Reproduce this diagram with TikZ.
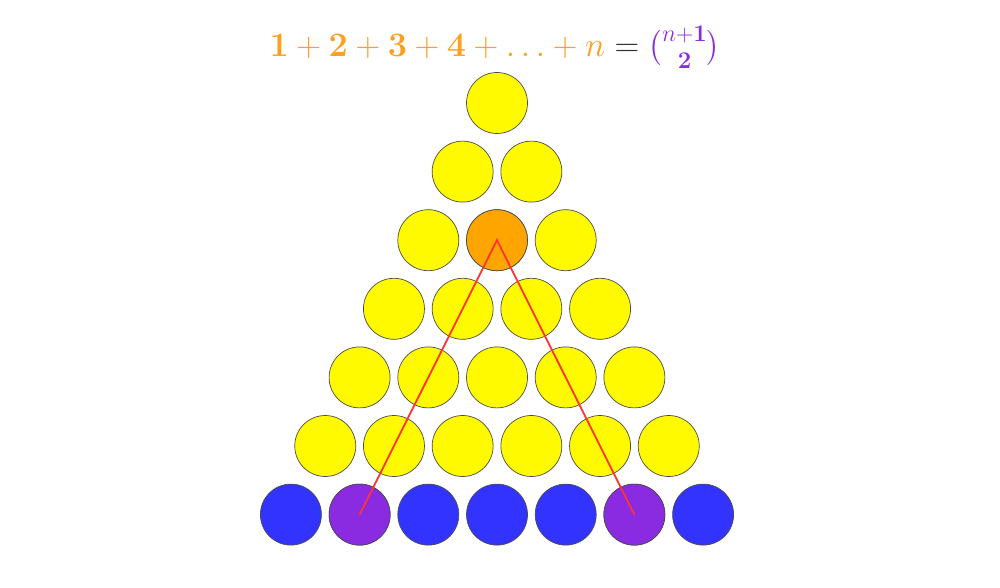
\RequirePackage{fix-cm}
\documentclass[tikz,border=0pt]{standalone}
\usepackage{amsmath}
\definecolor{cyel}{HTML}{FFFA00}
\definecolor{corg}{HTML}{FFA500}
\definecolor{cblue}{HTML}{3333FF}
\definecolor{cpur}{HTML}{8A2BE2}
\definecolor{cred}{HTML}{FF3333}
\definecolor{ttlorg}{HTML}{FF9F1A}
\definecolor{ttlgray}{HTML}{333333}
\begin{document}
\begin{tikzpicture}[x=1pt,y=-1pt,
  ball/.style={circle,draw=black!70,line width=0.7pt,minimum size=61pt,inner sep=0pt},
  link/.style={draw=cred,line width=1.8pt}]
\useasboundingbox (0,0) rectangle (1000,588);
\fill[white] (0,0) rectangle (1000,588);
\def\dx{68.7}
\def\dy{68.6}
\foreach \r in {1,...,6}{
  \foreach \k in {1,...,\r}{
    \node[ball,fill=cyel] (c\r-\k) at ({497+(\k-(\r+1)/2)*\dx},{103+(\r-1)*\dy}) {};
  }
}
\node[ball,fill=corg] (c3-2) at ({497},{103+2*\dy}) {};
\foreach \k in {1,...,7}{
  \node[ball,fill=cblue] (c7-\k) at ({497+(\k-4)*\dx},{103+6*\dy}) {};
}
\node[ball,fill=cpur] (c7-2) at ({497-2*\dx},{103+6*\dy}) {};
\node[ball,fill=cpur] (c7-6) at ({497+2*\dx},{103+6*\dy}) {};
\draw[link] (c7-2.center) -- (c3-2.center) -- (c7-6.center);
\node[scale=1.18,transform shape] (title) at (495,47) {\fontsize{29}{34}\selectfont$\color{ttlorg}\mathbf{1}+\mathbf{2}+\mathbf{3}+\mathbf{4}+\ldots+n\color{ttlgray}=\color{cpur}\binom{n+\mathbf{1}}{\mathbf{2}}$};
\end{tikzpicture}
\end{document}
